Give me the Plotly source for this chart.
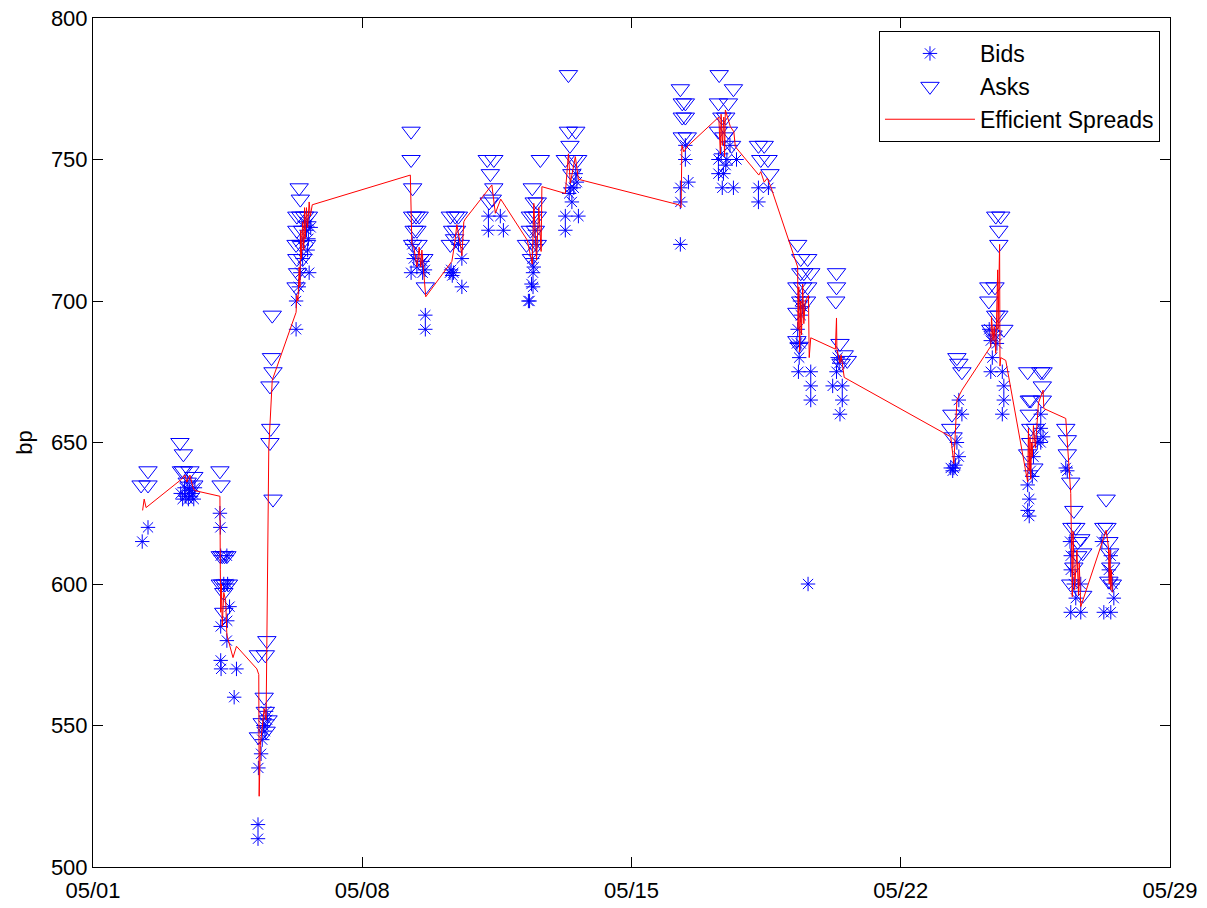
import pandas as pd
import plotly.graph_objects as go

# Quote times are expressed as fractional day-of-month (May 2005)
bid_day = [2.28, 2.43,
           3.28, 3.33, 3.38, 3.41, 3.45, 3.48, 3.51, 3.55, 3.59, 3.62, 3.65,
           4.30, 4.31, 4.32, 4.48, 4.40, 4.50, 4.55, 4.49, 4.32, 4.48, 4.32, 4.33, 4.73, 4.67,
           5.29, 5.29, 5.30, 5.37, 5.40, 5.43, 5.47, 5.50, 5.53,
           6.28, 6.28, 6.35, 6.39, 6.62, 6.39, 6.50, 6.62, 6.55, 6.60, 6.45, 6.58, 6.66,
           9.30, 9.34, 9.27, 9.57, 9.63, 9.57, 9.64, 9.64, 9.42,
           10.28, 10.31, 10.34, 10.37, 10.59, 10.59, 10.50,
           11.28, 11.59, 11.28, 11.67,
           12.42, 12.44, 12.44, 12.32, 12.35, 12.40, 12.49, 12.52, 12.46,
           13.41, 13.45, 13.28, 13.62, 13.28, 13.50, 13.55, 13.58, 13.38,
           16.40, 16.40, 16.48, 16.27, 16.27, 16.27,
           17.26, 17.48, 17.56, 17.73, 17.26, 17.39, 17.36, 17.65, 17.33, 17.45,
           18.30, 18.56, 18.30,
           19.40, 19.32, 19.40, 19.36, 19.34, 19.66, 19.66, 19.66, 19.59, 19.38, 19.45, 19.30,
           20.33, 20.40, 20.23, 20.48, 20.48, 20.42, 20.36,
           23.51, 23.59, 23.46, 23.51, 23.38, 23.30, 23.42, 23.35,
           24.34, 24.38, 24.34, 24.64, 24.68, 24.68, 24.64, 24.30, 24.50, 24.45,
           25.64, 25.64, 25.64, 25.30, 25.34, 25.30, 25.34, 25.38, 25.45, 25.55, 25.70, 25.42,
           26.29, 26.42, 26.42, 26.68, 26.55, 26.42, 26.68, 26.40, 26.50, 26.33,
           27.23, 27.41, 27.46, 27.51, 27.54, 27.28, 27.46]
bid_bp = [615, 620,
          632, 630, 634, 631, 636, 630, 633, 631, 632, 630, 634,
          625, 620, 610, 610, 600, 600, 592, 587, 585, 580, 573, 570, 570, 560,
          510, 515, 535, 540, 545, 550, 548, 555, 552,
          690, 700, 705, 710, 710, 721, 728, 728, 725, 722, 715, 718, 726,
          720, 715, 710, 710, 711, 714, 695, 690, 712,
          710, 711, 709, 710, 705, 715, 720,
          730, 730, 725, 725,
          715, 710, 705, 700, 700, 706, 725, 720, 712,
          740, 735, 730, 730, 725, 740, 745, 742, 738,
          755, 750, 742, 740, 735, 720,
          750, 750, 755, 750, 745, 745, 740, 740, 752, 748,
          740, 740, 735,
          695, 690, 685, 680, 675, 675, 670, 665, 600, 700, 698, 685,
          675, 678, 670, 670, 665, 660, 680,
          665, 660, 650, 645, 641, 641, 642, 640,
          686, 680, 675, 675, 670, 665, 660, 690, 685, 688,
          660, 655, 650, 635, 630, 626, 624, 640, 645, 650, 652, 638,
          641, 610, 605, 600, 595, 590, 590, 615, 600, 640,
          615, 605, 610, 600, 595, 590, 590]

ask_day = [2.25, 2.43, 2.43,
           3.26, 3.35, 3.30, 3.35, 3.52, 3.62, 3.62, 3.45,
           4.30, 4.33, 4.31, 4.36, 4.42, 4.48, 4.31, 4.37, 4.43, 4.52, 4.40, 4.40,
           5.30, 5.48, 5.52, 5.45, 5.48, 5.40, 5.55, 5.30, 5.50, 5.66, 5.64, 5.68, 5.60, 5.62, 5.60, 5.68,
           6.36, 6.39, 6.30, 6.40, 6.50, 6.60, 6.30, 6.45, 6.28, 6.40, 6.55, 6.30, 6.45, 6.32, 6.28,
           9.27, 9.27, 9.31, 9.31, 9.40, 9.48, 9.35, 9.42, 9.31, 9.45, 9.50, 9.60, 9.64,
           10.29, 10.42, 10.50, 10.35, 10.45, 10.29, 10.55, 10.40,
           11.25, 11.42, 11.33, 11.42, 11.38, 11.30,
           12.63, 12.42, 12.47, 12.55, 12.37, 12.45, 12.55, 12.37, 12.50, 12.27, 12.45, 12.55, 12.40,
           13.36, 13.36, 13.55, 13.40, 13.28, 13.50, 13.60, 13.45,
           16.27, 16.32, 16.40, 16.32, 16.40, 16.32, 16.45,
           17.28, 17.65, 17.26, 17.52, 17.35, 17.45, 17.26, 17.52, 17.40, 17.60,
           18.30, 18.45, 18.36, 18.55, 18.60,
           19.32, 19.40, 19.58, 19.40, 19.48, 19.66, 19.30, 19.45, 19.58, 19.40, 19.55, 19.30, 19.30, 19.36,
           20.33, 20.33, 20.31, 20.42, 20.53, 20.61, 20.45,
           23.46, 23.51, 23.59, 23.33, 23.30, 23.36,
           24.47, 24.60, 24.55, 24.55, 24.29, 24.45, 24.29, 24.47, 24.55, 24.34, 24.68, 24.40,
           25.30, 25.64, 25.70, 25.68, 25.34, 25.38, 25.68, 25.34, 25.38, 25.38, 25.30, 25.46, 25.50,
           26.29, 26.33, 26.33, 26.42, 26.50, 26.45, 26.55, 26.68, 26.60, 26.73, 26.50, 26.42, 26.73, 26.60,
           27.34, 27.36, 27.28, 27.41, 27.43, 27.46, 27.41, 27.50]
ask_bp = [635, 635, 640,
          650, 646, 640, 640, 640, 638, 635, 636,
          640, 635, 610, 610, 610, 610, 600, 600, 600, 600, 597, 590,
          575, 575, 580, 560, 555, 551, 552, 546, 548, 695, 680, 675, 670, 655, 650, 630,
          740, 736, 730, 730, 730, 730, 725, 725, 720, 720, 720, 715, 715, 710, 705,
          760, 750, 740, 730, 730, 730, 725, 725, 720, 720, 715, 715, 705,
          730, 730, 730, 725, 725, 720, 720, 722,
          750, 750, 745, 740, 736, 735,
          750, 740, 735, 735, 730, 730, 730, 725, 725, 720, 720, 720, 715,
          780, 760, 760, 755, 750, 750, 750, 745,
          775, 770, 770, 765, 765, 758, 758,
          780, 775, 770, 770, 765, 765, 760, 760, 758, 755,
          755, 755, 750, 750, 745,
          720, 715, 715, 710, 710, 710, 705, 705, 705, 700, 700, 696, 686, 684,
          710, 705, 700, 685, 681, 679, 678,
          680, 678, 675, 660, 655, 652,
          730, 730, 725, 720, 705, 705, 700, 695, 695, 690, 690, 688,
          675, 675, 675, 670, 665, 665, 665, 660, 655, 650, 646, 641, 655,
          655, 651, 646, 636, 626, 620, 620, 616, 615, 611, 606, 600, 596, 610,
          630, 620, 620, 615, 611, 606, 601, 600]

eff_day = [2.29, 2.33, 2.38,
           3.30, 3.39, 3.44, 3.52, 3.60, 3.65,
           4.30, 4.31, 4.32, 4.34, 4.36, 4.40, 4.45, 4.48, 4.64, 4.73,
           5.26, 5.31, 5.32, 5.35, 5.40, 5.45, 5.50, 5.57, 5.66,
           6.28, 6.30, 6.33, 6.36, 6.38, 6.40, 6.42, 6.45, 6.48, 6.50, 6.52, 6.55, 6.58, 6.62, 6.65, 6.70,
           9.25, 9.29, 9.34, 9.42, 9.48, 9.52, 9.55, 9.65,
           10.33, 10.40, 10.46, 10.55, 10.59, 10.64, 10.68,
           11.37, 11.40, 11.46, 11.60,
           12.29, 12.42, 12.46, 12.53, 12.59, 12.65, 12.67,
           13.28, 13.36, 13.41, 13.54, 13.62,
           16.23, 16.29, 16.31, 16.36, 16.48,
           17.27, 17.31, 17.33, 17.36, 17.40, 17.42, 17.44, 17.57, 17.66, 17.70,
           18.31, 18.36, 18.45, 18.53, 18.62,
           19.32, 19.33, 19.35, 19.37, 19.40, 19.42, 19.45, 19.48, 19.52, 19.60, 19.62, 19.66,
           20.30, 20.33, 20.34, 20.42, 20.45, 20.53,
           23.30, 23.38, 23.40, 23.46, 23.59,
           24.34, 24.36, 24.40, 24.43, 24.47, 24.52, 24.53, 24.57, 24.58, 24.60, 24.73,
           25.30, 25.32, 25.34, 25.36, 25.38, 25.40, 25.42, 25.45, 25.50, 25.58, 25.70, 25.72,
           26.29, 26.34, 26.42, 26.46, 26.48, 26.52, 26.58, 26.62, 26.64, 26.68,
           27.34, 27.40, 27.42, 27.44, 27.46, 27.48, 27.50]
eff_bp = [626, 630, 627,
          637, 638.5, 636, 638.5, 634, 633,
          631, 605, 590, 600, 585, 597, 594, 582, 574, 578,
          570, 568, 525, 543, 550, 556, 552, 648, 672,
          696, 702, 700, 712, 705, 725, 715, 728, 718, 733, 722, 733, 726, 735, 730, 734,
          744.5, 720, 719, 712, 719, 712, 718, 701.5,
          714, 720, 727, 720, 716, 728, 729,
          741, 738, 731, 736,
          721.5, 713, 734.5, 714.5, 733, 717.5, 740.4,
          738, 752, 741.6, 751, 743,
          734, 733, 755, 752.7, 755,
          765, 752, 766, 755, 765, 751, 767.5, 761.6, 759.8, 754.5,
          744.5, 745.7, 742, 743.4, 740.4,
          712, 690, 705, 682, 700, 688, 706, 692, 700, 702, 680, 687,
          683, 694, 683, 678, 681, 673,
          652, 642.6, 650, 665, 668.5,
          684, 694.5, 686, 691, 681.5, 711, 690, 720, 677, 680, 679,
          636, 655, 640, 652, 637, 650, 645, 656, 648, 664, 668.5, 662,
          658.5, 648.5, 632, 595.5, 618.6, 598, 612, 596, 607.5, 592,
          619, 613, 600, 612, 598, 605, 597]

tick_dates = ["2005-05-01", "2005-05-08", "2005-05-15", "2005-05-22", "2005-05-29"]
tick_text = ["05/01", "05/08", "05/15", "05/22", "05/29"]
y_ticks = [500, 550, 600, 650, 700, 750, 800]

month_start = pd.Timestamp("2005-05-01")


def to_time(days):
    return month_start + pd.to_timedelta([d - 1 for d in days], unit="D")


FONT = "Liberation Sans, Arial, Helvetica, sans-serif"

fig = go.Figure()
fig.add_trace(go.Scatter(
    x=to_time(bid_day), y=bid_bp, mode="markers", name="Bids",
    marker=dict(symbol="asterisk-open", size=12, color="#0000ff",
                line=dict(color="#0000ff", width=1)),
))
fig.add_trace(go.Scatter(
    x=to_time(ask_day), y=ask_bp, mode="markers", name="Asks",
    marker=dict(symbol="triangle-down-open", size=16, color="#0000ff",
                line=dict(color="#0000ff", width=1)),
))
fig.add_trace(go.Scatter(
    x=to_time(eff_day), y=eff_bp, mode="lines", name="Efficient Spreads",
    line=dict(color="#ff0000", width=1),
))

fig.update_layout(
    width=1207, height=908,
    margin=dict(l=93, r=37, t=18, b=41, pad=0),
    paper_bgcolor="white", plot_bgcolor="white",
    font=dict(family=FONT, size=22, color="black"),
    showlegend=True,
    legend=dict(
        x=0.9907, y=0.9847, xanchor="right", yanchor="top",
        bgcolor="white", bordercolor="black", borderwidth=1,
        font=dict(family=FONT, size=23, color="black"),
        itemwidth=90, tracegroupgap=0,
    ),
)
fig.update_xaxes(
    type="date",
    range=[tick_dates[0], tick_dates[-1]],
    tickvals=tick_dates, ticktext=tick_text,
    ticks="inside", ticklen=10, tickwidth=1, tickcolor="black",
    showline=True, linecolor="black", linewidth=1, mirror="ticks",
    showgrid=False, zeroline=False, automargin=False,
    ticklabelstandoff=4,
    tickfont=dict(family=FONT, size=22, color="black"),
)
fig.update_yaxes(
    range=[500, 800],
    tickvals=y_ticks,
    ticks="inside", ticklen=10, tickwidth=1, tickcolor="black",
    showline=True, linecolor="black", linewidth=1, mirror="ticks",
    showgrid=False, zeroline=False, automargin=False,
    tickfont=dict(family=FONT, size=22, color="black"),
    title=dict(text="bp", font=dict(family=FONT, size=22, color="black"), standoff=12),
)

fig.write_html("out.html")
